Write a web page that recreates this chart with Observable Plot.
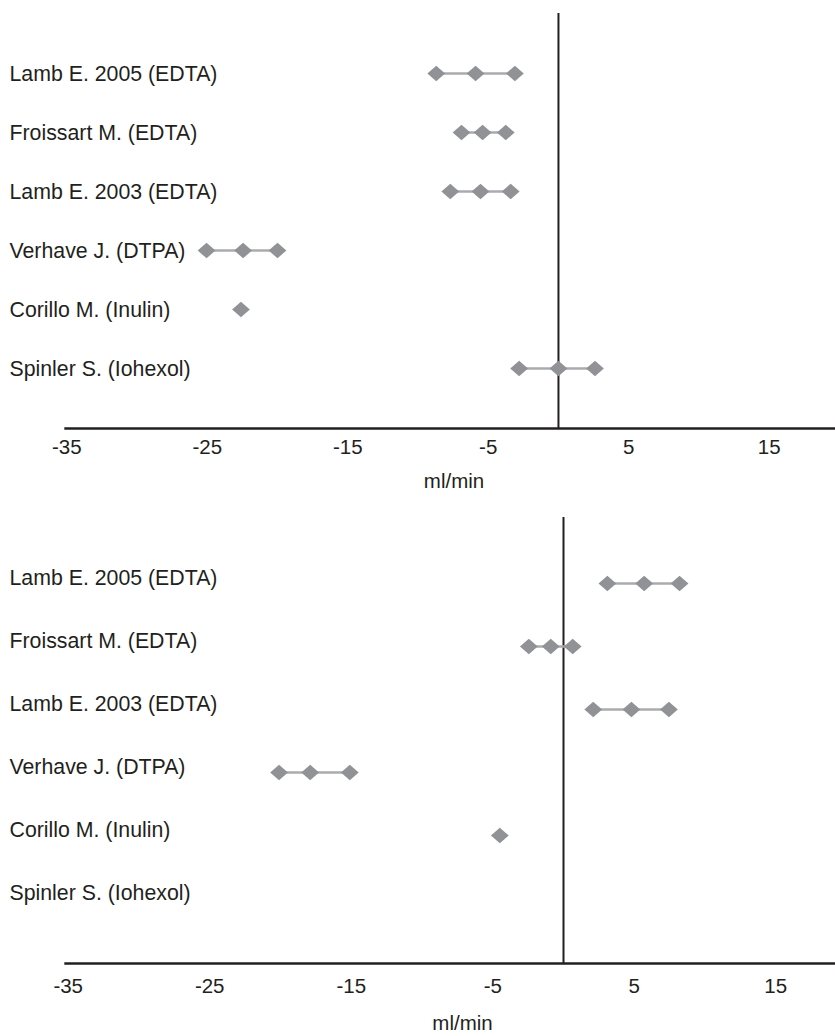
<!DOCTYPE html>
<html>
<head>
<meta charset="utf-8">
<script src="https://cdn.jsdelivr.net/npm/d3@7"></script>
<script src="https://cdn.jsdelivr.net/npm/@observablehq/plot@0.6"></script>
<style>
  html, body { margin: 0; padding: 0; background: #fff; }
  #chart { width: 835px; }
  #chart svg { display: block; }
</style>
</head>
<body>
<div id="chart"></div>
<script>
// ---- data ----
const studies = [
  "Lamb E. 2005 (EDTA)",
  "Froissart M. (EDTA)",
  "Lamb E. 2003 (EDTA)",
  "Verhave J. (DTPA)",
  "Corillo M. (Inulin)",
  "Spinler S. (Iohexol)"
];
// top panel (ml/min)
const topLow  = [-8.7, -6.9, -7.7, -25.05, null, -2.8];
const topMid  = [-5.9, -5.4, -5.55, -22.45, -22.6, 0];
const topHigh = [-3.1, -3.75, -3.4, -20.0, null, 2.6];
// bottom panel (ml/min)
const botLow  = [3.1, -2.45, 2.1, -20.1, null, null];
const botMid  = [5.7, -0.9, 4.8, -17.9, -4.5, null];
const botHigh = [8.2, 0.65, 7.45, -15.1, null, null];
const tickValues = [-35, -25, -15, -5, 5, 15];
const axisLabel = "ml/min";

// ---- styling ----
const FONT = "'Liberation Sans', Arial, Helvetica, sans-serif";
const INK = "#231f20";
const DOT = "#909296";
const BAR = "#a9abae";

// slightly wide diamond symbol
const wideDiamond = {
  draw(ctx, size) {
    const r = Math.sqrt(size) * 0.62625;
    const h = r * 0.88;
    ctx.moveTo(0, -h);
    ctx.lineTo(r, 0);
    ctx.lineTo(0, h);
    ctx.lineTo(-r, 0);
    ctx.closePath();
  }
};

function panel(low, mid, high, opts) {
  const rows = studies.map((s, i) => ({study: s, lo: low[i], mid: mid[i], hi: high[i]}));
  const pts = [];
  rows.forEach(r => {
    for (const v of [r.lo, r.mid, r.hi]) if (v != null) pts.push({study: r.study, v});
  });
  const ranges = rows.filter(r => r.lo != null && r.hi != null);
  return Plot.plot({
    width: 835,
    height: opts.height,
    marginLeft: 65,
    marginRight: 0,
    marginTop: opts.marginTop,
    marginBottom: opts.marginBottom,
    style: {fontFamily: FONT, background: "#fff", overflow: "visible"},
    x: {domain: opts.xDomain, axis: null},
    y: {type: "point", domain: studies, padding: 1, axis: null},
    marks: [
      Plot.ruleX([0], {stroke: INK, strokeWidth: 2}),
      Plot.frame({anchor: "bottom", stroke: INK, strokeWidth: 2.4}),
      Plot.ruleY(ranges, {y: "study", x1: "lo", x2: "hi", stroke: BAR, strokeWidth: 2.6}),
      Plot.dot(pts, {x: "v", y: "study", symbol: wideDiamond, r: 8, fill: DOT, stroke: "none"}),
      Plot.text(rows, {y: "study", text: "study", frameAnchor: "left", textAnchor: "start",
        dx: -56, dy: opts.labelDy, fontSize: 21.3, fill: INK}),
      Plot.text(tickValues, {x: d => d, text: d => String(d), frameAnchor: "bottom",
        dy: opts.tickDy, fontSize: 20.5, fill: INK}),
      Plot.text([axisLabel], {text: d => d, frameAnchor: "bottom", dy: opts.titleDy,
        dx: opts.titleDx, fontSize: 20.5, fill: INK})
    ]
  });
}

const chart = document.getElementById("chart");
chart.appendChild(panel(topLow, topMid, topHigh, {
  height: 510, marginTop: 13, marginBottom: 82,
  xDomain: [-35.09, 19.72], labelDy: 1, tickDy: 25, titleDy: 59, titleDx: 3.5
}));
chart.appendChild(panel(botLow, botMid, botHigh, {
  height: 526, marginTop: 7, marginBottom: 73,
  xDomain: [-35.19, 19.22], labelDy: -5, tickDy: 29, titleDy: 66, titleDx: 12
}));
</script>
</body>
</html>
